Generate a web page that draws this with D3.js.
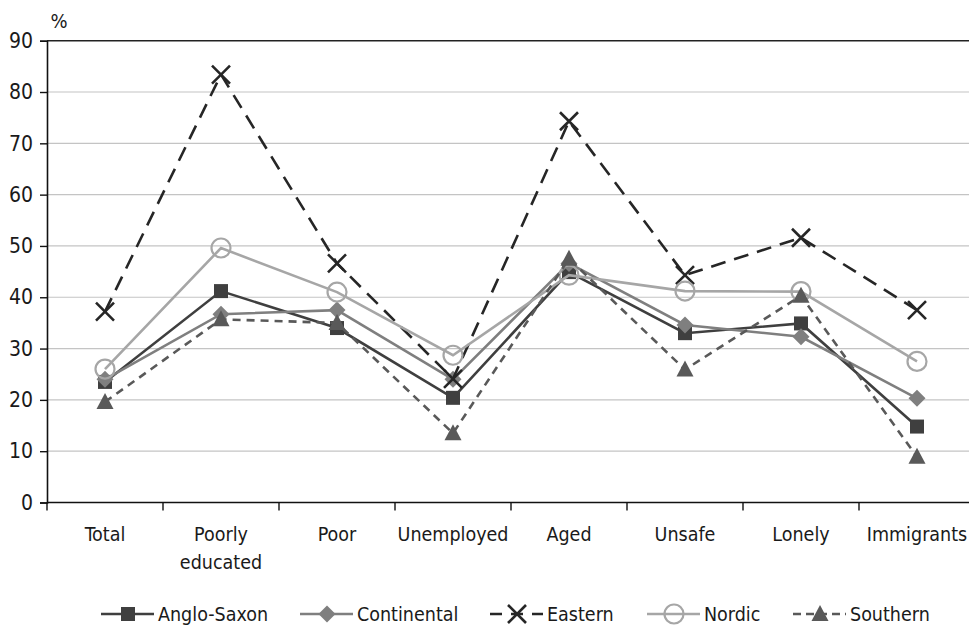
<!DOCTYPE html>
<html>
<head>
<meta charset="utf-8">
<script src="https://cdn.jsdelivr.net/npm/d3@7"></script>
<style>
  html, body { margin: 0; padding: 0; background: #fff; }
  svg { display: block; }
  text { font-family: "Liberation Sans Narrow", "Arial Narrow", "DejaVu Sans Condensed", sans-serif; fill: #1a1a1a; }
</style>
</head>
<body>
<svg id="chart" width="969" height="625"></svg>
<script>
// Share of each group (%) by welfare regime
const categories = ["Total", "Poorly educated", "Poor", "Unemployed", "Aged", "Unsafe", "Lonely", "Immigrants"];
const angloSaxon  = [23.5, 41.2, 34.0, 20.4, 44.9, 33.0, 34.9, 14.8];
const continental = [24.0, 36.7, 37.5, 24.0, 46.6, 34.6, 32.3, 20.3];
const eastern     = [37.2, 83.4, 46.6, 24.1, 74.3, 44.3, 51.6, 37.5];
const nordic      = [26.0, 49.6, 41.0, 28.7, 44.3, 41.2, 41.1, 27.5];
const southern    = [19.6, 35.7, 35.0, 13.5, 47.5, 25.9, 40.3, 8.9];
const yTicks = [0, 10, 20, 30, 40, 50, 60, 70, 80, 90];

const series = [
  { name: "Anglo-Saxon", values: angloSaxon,  color: "#3f3f3f", dash: null,   marker: "square" },
  { name: "Continental", values: continental, color: "#7f7f7f", dash: null,   marker: "diamond" },
  { name: "Eastern",     values: eastern,     color: "#262626", dash: "15,9", marker: "cross" },
  { name: "Nordic",      values: nordic,      color: "#a6a6a6", dash: null,   marker: "circle" },
  { name: "Southern",    values: southern,    color: "#595959", dash: "8,6",  marker: "triangle" }
];

const svg = d3.select("#chart");
const plotLeft = 47, plotRight = 975, plotTop = 40.7, plotBottom = 502.5;
const labelSize = 19.5;

const x = d3.scaleBand().domain(categories).range([plotLeft, plotRight]);
const y = d3.scaleLinear().domain([0, 90]).range([plotBottom, plotTop]);
const cx = c => x(c) + x.bandwidth() / 2;

// horizontal gridlines
svg.append("g").selectAll("line")
  .data(yTicks.filter(t => t > 0 && t < 90))
  .join("line")
  .attr("x1", plotLeft).attr("x2", 969)
  .attr("y1", d => y(d)).attr("y2", d => y(d))
  .attr("stroke", "#c4c4c4").attr("stroke-width", 1.2);

// top frame line at 90
svg.append("line")
  .attr("x1", plotLeft).attr("x2", 969)
  .attr("y1", y(90)).attr("y2", y(90))
  .attr("stroke", "#222").attr("stroke-width", 1.6);

// y axis
const yAxis = svg.append("g")
  .attr("transform", `translate(${plotLeft},0)`)
  .call(d3.axisLeft(y).tickValues(yTicks).tickSize(7).tickPadding(7).tickFormat(d3.format("d")));
yAxis.select(".domain").attr("stroke", "#111").attr("stroke-width", 1.6);
yAxis.selectAll(".tick line").attr("stroke", "#111").attr("stroke-width", 1.4);
yAxis.selectAll("text").attr("font-size", 21).attr("fill", "#1a1a1a")
  .style("font-family", "'Liberation Sans Narrow','Arial Narrow','DejaVu Sans Condensed',sans-serif");

svg.append("text").attr("x", 59).attr("y", 28).attr("text-anchor", "middle")
  .attr("font-size", 20).text("%");

// x axis with ticks between categories
const xAxisG = svg.append("g").attr("transform", `translate(0,${plotBottom})`);
xAxisG.append("line").attr("x1", plotLeft).attr("x2", 969).attr("y1", 0).attr("y2", 0)
  .attr("stroke", "#111").attr("stroke-width", 1.6);
xAxisG.selectAll(".xt")
  .data(categories.map(c => x(c)))
  .join("line")
  .attr("class", "xt")
  .attr("x1", d => d).attr("x2", d => d)
  .attr("y1", 0).attr("y2", 8)
  .attr("stroke", "#111").attr("stroke-width", 1.4);

const labelLines = { "Poorly educated": ["Poorly", "educated"] };
categories.forEach(c => {
  const lines = labelLines[c] || [c];
  const t = svg.append("text")
    .attr("x", cx(c)).attr("y", 541)
    .attr("text-anchor", "middle").attr("font-size", labelSize);
  lines.forEach((l, i) => {
    t.append("tspan").attr("x", cx(c)).attr("dy", i === 0 ? 0 : 28).text(l);
  });
});

// marker drawing
function drawMarker(g, type, px, py, color) {
  if (type === "square") {
    g.append("rect").attr("x", px - 7).attr("y", py - 7).attr("width", 14).attr("height", 14).attr("fill", color);
  } else if (type === "diamond") {
    g.append("path").attr("d", `M${px},${py - 8.5}L${px + 8.5},${py}L${px},${py + 8.5}L${px - 8.5},${py}Z`).attr("fill", color);
  } else if (type === "cross") {
    g.append("path").attr("d", `M${px - 9},${py - 9}L${px + 9},${py + 9}M${px - 9},${py + 9}L${px + 9},${py - 9}`)
      .attr("stroke", color).attr("stroke-width", 2.6).attr("fill", "none");
  } else if (type === "circle") {
    g.append("circle").attr("cx", px).attr("cy", py).attr("r", 9.5)
      .attr("fill", "none").attr("stroke", color).attr("stroke-width", 2.2);
  } else if (type === "triangle") {
    g.append("path").attr("d", `M${px},${py - 9}L${px + 8.5},${py + 7}L${px - 8.5},${py + 7}Z`).attr("fill", color);
  }
}

const line = d3.line().x((d, i) => cx(categories[i])).y(d => y(d));

// draw lines then markers, series in order
series.forEach(s => {
  const g = svg.append("g");
  g.append("path")
    .attr("d", line(s.values))
    .attr("fill", "none")
    .attr("stroke", s.color)
    .attr("stroke-width", 2.6)
    .attr("stroke-dasharray", s.dash);
  s.values.forEach((v, i) => drawMarker(g, s.marker, cx(categories[i]), y(v), s.color));
});

// legend
const legendX = [101, 300, 490, 647, 793];
const legendY = 614;
series.forEach((s, i) => {
  const g = svg.append("g");
  const x0 = legendX[i];
  g.append("line").attr("x1", x0).attr("x2", x0 + 53).attr("y1", legendY).attr("y2", legendY)
    .attr("stroke", s.color).attr("stroke-width", 2.6)
    .attr("stroke-dasharray", s.dash ? (s.marker === "cross" ? "12,9" : "8,5") : null);
  drawMarker(g, s.marker, x0 + 27, legendY, s.color);
  g.append("text").attr("x", x0 + 57).attr("y", 621).attr("font-size", labelSize).text(s.name);
});
</script>
</body>
</html>
